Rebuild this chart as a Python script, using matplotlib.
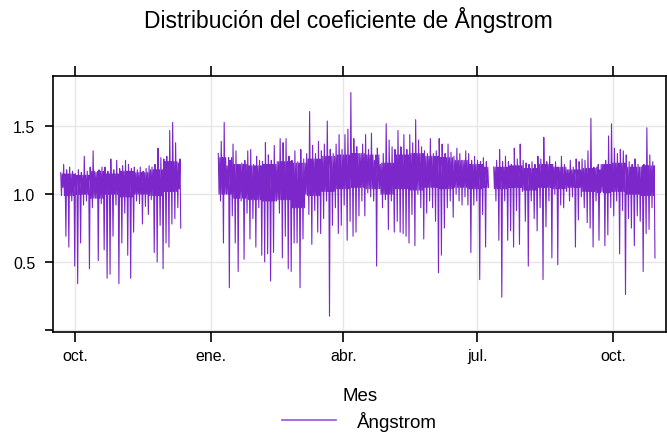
import numpy as np
import matplotlib.pyplot as plt
from matplotlib.lines import Line2D

plt.rcParams['font.family'] = ['Liberation Sans', 'DejaVu Sans']

# every segment: first day, then one (high, low) pair per two days
seg1_start = "2020-09-21"
seg1_hi = [1.16, 1.22, 1.18, 1.20, 1.17, 1.15, 1.18, 1.16, 1.28, 1.17, 1.20,
           1.32, 1.16, 1.18, 1.20, 1.20, 1.17, 1.26, 1.18, 1.25, 1.19, 1.21,
           1.25, 1.22, 1.19, 1.20, 1.18, 1.20, 1.17, 1.19, 1.21, 1.20, 1.22,
           1.34, 1.27, 1.26, 1.28, 1.47, 1.53, 1.38, 1.23]
seg1_lo = [1.05, 0.69, 0.61, 0.95, 0.47, 0.34, 0.64, 0.92, 0.95, 0.45, 0.90,
           0.97, 0.51, 0.93, 0.59, 0.38, 0.41, 0.69, 0.92, 0.34, 0.64, 0.86,
           0.55, 0.38, 0.72, 0.95, 0.93, 0.78, 0.91, 0.85, 0.96, 0.57, 0.50,
           0.77, 0.45, 0.64, 0.61, 0.78, 0.82, 0.90, 0.75]
# dense core of the band, one value per ten days
seg1_core_lo = [0.99, 1.00, 0.97, 1.00, 0.98, 1.00, 0.99, 1.02, 1.04]
seg1_core_hi = [1.15, 1.14, 1.17, 1.15, 1.17, 1.16, 1.18, 1.24, 1.26]

seg2_start = "2021-01-06"
seg2_hi = [1.30, 1.39, 1.53, 1.21, 1.25, 1.37, 1.32, 1.22, 1.23, 1.25, 1.32,
           1.33, 1.22, 1.28, 1.25, 1.24, 1.38, 1.29, 1.25, 1.36, 1.24, 1.41,
           1.38, 1.41, 1.28, 1.25, 1.32, 1.24, 1.33, 1.26, 1.30, 1.61, 1.36,
           1.30, 1.39, 1.32, 1.37, 1.54, 1.33, 1.30, 1.37, 1.44, 1.33, 1.44,
           1.48, 1.75, 1.41, 1.35, 1.30, 1.37, 1.44, 1.33, 1.45, 1.25, 1.34,
           1.22, 1.30, 1.52, 1.40, 1.35, 1.33, 1.47, 1.35, 1.44, 1.33, 1.44,
           1.38, 1.55, 1.40, 1.35, 1.32, 1.30, 1.41, 1.30, 1.32, 1.41, 1.37,
           1.30, 1.37, 1.31, 1.28, 1.34, 1.30, 1.25, 1.32, 1.30, 1.25, 1.28,
           1.25, 1.24, 1.27, 1.24]
seg2_lo = [0.95, 0.64, 1.00, 0.31, 0.84, 0.64, 0.43, 0.95, 0.52, 0.86, 0.67,
           0.82, 0.61, 0.90, 0.55, 0.50, 0.56, 0.36, 0.57, 0.95, 0.86, 0.53,
           0.69, 0.45, 0.43, 0.64, 0.64, 0.31, 0.67, 1.00, 0.85, 0.63, 0.88,
           0.72, 0.71, 0.82, 0.95, 0.10, 0.77, 0.90, 0.71, 0.77, 0.92, 0.66,
           0.80, 0.69, 0.72, 0.84, 0.95, 0.84, 1.01, 0.98, 0.95, 0.47, 1.04,
           0.90, 0.96, 0.74, 0.95, 0.72, 0.80, 0.72, 0.71, 0.69, 0.64, 0.85,
           0.62, 1.00, 0.90, 0.67, 0.86, 0.95, 0.90, 0.80, 0.42, 0.55, 0.75,
           0.90, 0.95, 0.83, 1.00, 0.95, 0.92, 0.98, 0.92, 0.57, 0.92, 0.95,
           0.37, 0.85, 0.61, 1.05]
seg2_core_lo = [1.00, 0.97, 0.96, 0.95, 0.96, 0.90, 0.99, 1.02, 1.04, 1.05,
                1.04, 1.00, 1.04, 1.03, 1.05, 1.04, 1.05, 1.04, 1.05]
seg2_core_hi = [1.27, 1.22, 1.21, 1.22, 1.24, 1.23, 1.26, 1.28, 1.29, 1.30,
                1.29, 1.23, 1.29, 1.30, 1.28, 1.27, 1.25, 1.22, 1.20]

seg3_start = "2021-07-12"
seg3_hi = [1.20, 1.25, 1.33, 1.24, 1.28, 1.24, 1.22, 1.34, 1.26, 1.37, 1.25,
           1.23, 1.22, 1.24, 1.22, 1.28, 1.26, 1.42, 1.24, 1.28, 1.22, 1.24,
           1.20, 1.28, 1.22, 1.18, 1.25, 1.20, 1.26, 1.24, 1.26, 1.25, 1.32,
           1.56, 1.20, 1.20, 1.18, 1.22, 1.25, 1.43, 1.52, 1.34, 1.30, 1.33,
           1.32, 1.29, 1.24, 1.22, 1.26, 1.22, 1.20, 1.22, 1.49, 1.29, 1.24]
seg3_lo = [0.95, 0.66, 0.24, 0.95, 0.66, 0.73, 0.61, 0.88, 0.63, 1.02, 0.80,
           0.47, 0.95, 0.82, 0.73, 0.90, 0.37, 0.76, 0.95, 0.53, 1.00, 0.48,
           0.92, 0.90, 1.02, 0.95, 0.98, 0.61, 0.81, 0.98, 0.90, 0.79, 0.75,
           0.61, 0.95, 0.66, 1.02, 0.62, 0.70, 0.90, 0.84, 0.95, 0.56, 0.88,
           0.26, 0.82, 0.75, 0.62, 0.84, 0.80, 0.43, 0.71, 0.74, 0.90, 0.53]
seg3_core_lo = [1.04, 1.05, 1.03, 1.05, 1.04, 1.05, 1.02, 1.01, 1.02, 1.00, 0.99]
seg3_core_hi = [1.20, 1.21, 1.19, 1.22, 1.20, 1.18, 1.19, 1.22, 1.23, 1.20, 1.21]

tick_dates = ["2020-10-01", "2021-01-01", "2021-04-01", "2021-07-01", "2021-10-01"]
tick_labels = ["oct.", "ene.", "abr.", "jul.", "oct."]

color = '#7B27C9'

fig = plt.figure(figsize=(6.67, 4.35), dpi=100)
ax = fig.add_axes([0.080, 0.235, 0.9185, 0.5873])

segments = [(seg1_start, seg1_hi, seg1_lo, seg1_core_lo, seg1_core_hi),
            (seg2_start, seg2_hi, seg2_lo, seg2_core_lo, seg2_core_hi),
            (seg3_start, seg3_hi, seg3_lo, seg3_core_lo, seg3_core_hi)]

for start, hi, lo, clo, chi in segments:
    t0 = np.datetime64(start, 'h')
    n = len(hi)
    c_lo = np.repeat(clo, 5)[:n]
    c_hi = np.repeat(chi, 5)[:n]
    # each two-day step: high, core low, core high, low (12 h apart)
    v = np.empty(4 * n)
    v[0::4] = hi
    v[1::4] = c_lo
    v[2::4] = c_hi
    v[3::4] = lo
    t = t0 + np.arange(4 * n) * np.timedelta64(12, 'h')
    ax.plot(t, v, color=color, lw=0.8)

ax.set_xlim(np.datetime64("2020-09-16"), np.datetime64("2021-11-06"))
ax.set_ylim(-0.015, 1.87)

ax.set_xticks([np.datetime64(d) for d in tick_dates])
ax.set_xticklabels(tick_labels, fontsize=11.5)
ax.set_yticks([0.0, 0.5, 1.0, 1.5])
ax.set_yticklabels(['', '0.5', '1.0', '1.5'], fontsize=11.5)
ax.tick_params(axis='x', top=True, bottom=True, direction='out', length=7,
               width=1.2, pad=5, colors='black')
ax.tick_params(axis='y', left=True, right=False, direction='out', length=6,
               width=1.2, pad=7)
ax.grid(True, color='#e6e6e6', lw=1)
ax.set_axisbelow(True)
for sp in ax.spines.values():
    sp.set_linewidth(1.2)

ax.set_xlabel('Mes', fontsize=13.5, labelpad=17)
fig.text(348 / 667, 1 - 20 / 435, 'Distribución del coeficiente de Ångstrom',
         ha='center', va='center', fontsize=16.5)

handle = Line2D([], [], color='#9B4FE0', lw=1.2)
fig.legend([handle], ['Ångstrom'], loc='center',
           bbox_to_anchor=(359 / 667, 1 - 422 / 435), frameon=False,
           fontsize=13.5, handlelength=2.9, handletextpad=1.1)

fig.savefig('out.png', dpi=100)
